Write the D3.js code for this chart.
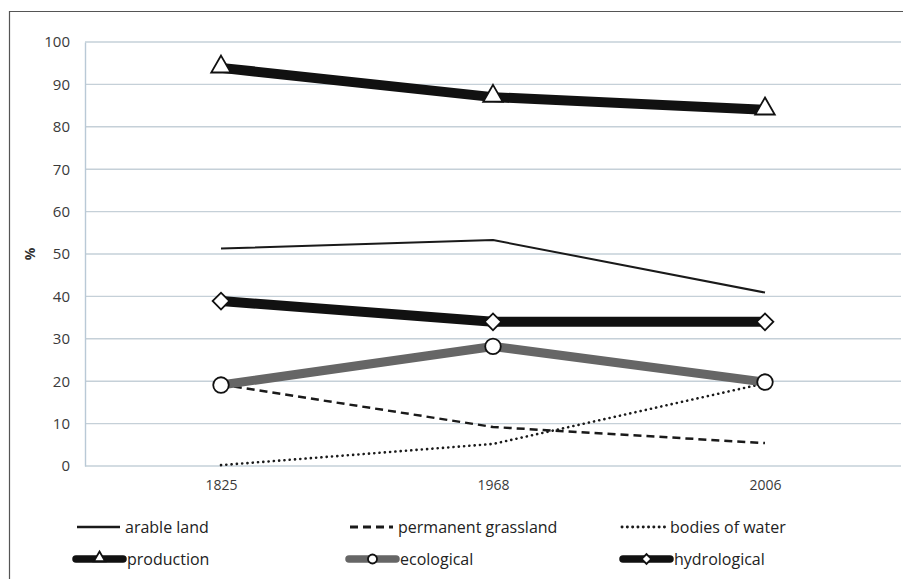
<!DOCTYPE html>
<html>
<head>
<meta charset="utf-8">
<script src="https://cdn.jsdelivr.net/npm/d3@7"></script>
<style>
  html, body { margin: 0; padding: 0; background: #fff; }
  svg { display: block; font-family: "Open Sans", "Liberation Sans", sans-serif; }
</style>
</head>
<body>
<svg id="chart" width="903" height="579"></svg>
<script>
// Share of land functions per year (%)
const years = ["1825", "1968", "2006"];
const arableLand = [51.3, 53.3, 40.9];
const permanentGrassland = [19.2, 9.2, 5.4];
const bodiesOfWater = [0.2, 5.2, 19.5];
const production = [93.9, 87.0, 84.0];
const ecological = [19.1, 28.2, 19.8];
const hydrological = [38.9, 34.0, 34.0];
const yTicks = [0, 10, 20, 30, 40, 50, 60, 70, 80, 90, 100];

const series = [
  { name: "arable land", values: arableLand, color: "#1a1a1a", width: 2, dash: null, marker: null },
  { name: "permanent grassland", values: permanentGrassland, color: "#1a1a1a", width: 2.5, dash: "8,5", marker: null },
  { name: "bodies of water", values: bodiesOfWater, color: "#1a1a1a", width: 2.6, dash: "0.1,5.2", cap: "round", marker: null },
  { name: "production", values: production, color: "#111", width: 10, dash: null, marker: "triangle" },
  { name: "ecological", values: ecological, color: "#666", width: 9, dash: null, marker: "circle" },
  { name: "hydrological", values: hydrological, color: "#111", width: 10, dash: null, marker: "diamond" }
];

const svg = d3.select("#chart");
const plot = { left: 85, right: 901, top: 42, bottom: 466 };

// outer frame
svg.append("path")
  .attr("d", "M9.5,579 V11.5 H903")
  .attr("fill", "none").attr("stroke", "#555").attr("stroke-width", 1.2);

const x = d3.scalePoint().domain(years).range([plot.left, plot.right]).padding(0.5);
const y = d3.scaleLinear().domain([0, 100]).range([plot.bottom, plot.top]);

// horizontal gridlines
svg.append("g").selectAll("line").data(yTicks).join("line")
  .attr("x1", plot.left).attr("x2", plot.right)
  .attr("y1", d => y(d)).attr("y2", d => y(d))
  .attr("stroke", "#c5d0d8").attr("stroke-width", 1.4);

// y axis
const yAxis = svg.append("g")
  .attr("transform", `translate(${plot.left},0)`)
  .call(d3.axisLeft(y).tickValues(yTicks).tickSize(0).tickPadding(15));
yAxis.select(".domain").attr("stroke", "#b9c9d6").attr("stroke-width", 1.4);
yAxis.selectAll("text").attr("font-size", 15).attr("fill", "#3a3a3a")
  .attr("font-family", "Open Sans, sans-serif");

// x axis labels
const xAxis = svg.append("g")
  .attr("transform", `translate(0,${plot.bottom})`)
  .call(d3.axisBottom(x).tickSize(0).tickPadding(14));
xAxis.select(".domain").remove();
xAxis.selectAll("text").attr("font-size", 14).attr("fill", "#3a3a3a")
  .attr("font-family", "Open Sans, sans-serif");

// y axis title
svg.append("text")
  .attr("transform", `translate(35,${y(50)}) rotate(-90)`)
  .attr("text-anchor", "middle")
  .attr("font-size", 14).attr("font-weight", "bold").attr("fill", "#333")
  .text("%");

const line = d3.line().x((d, i) => x(years[i])).y(d => y(d));

// draw lines
const lines = svg.append("g");
series.forEach(s => {
  lines.append("path")
    .datum(s.values)
    .attr("d", line)
    .attr("fill", "none")
    .attr("stroke", s.color)
    .attr("stroke-width", s.width)
    .attr("stroke-dasharray", s.dash)
    .attr("stroke-linecap", s.cap || "butt")
    .attr("stroke-linejoin", "round");
});

// marker shapes
const markerPath = {
  triangle: d3.symbol().type(d3.symbolTriangle).size(165)(),
  circle: d3.symbol().type(d3.symbolCircle).size(190)(),
  diamond: d3.symbol().type(d3.symbolSquare).size(140)()
};
function drawMarker(g, kind, cx, cy, scale) {
  const p = g.append("path")
    .attr("d", markerPath[kind])
    .attr("fill", "#fff").attr("stroke", "#111").attr("stroke-width", 1.8 / scale);
  if (kind === "diamond") p.attr("transform", `translate(${cx},${cy}) scale(${scale}) rotate(45)`);
  else if (kind === "triangle") p.attr("transform", `translate(${cx},${cy - 1}) scale(${scale})`);
  else p.attr("transform", `translate(${cx},${cy}) scale(${scale})`);
}

const marks = svg.append("g");
series.filter(s => s.marker).forEach(s => {
  s.values.forEach((v, i) => drawMarker(marks, s.marker, x(years[i]), y(v), 1));
});

// legend
const legendItems = [
  { s: series[0], x: 77, y: 527 },
  { s: series[1], x: 350, y: 527 },
  { s: series[2], x: 622, y: 527 },
  { s: series[3], x: 76, y: 559 },
  { s: series[4], x: 349, y: 559 },
  { s: series[5], x: 623, y: 559 }
];
const legend = svg.append("g");
legendItems.forEach(({ s, x: lx, y: ly }) => {
  const w = s.marker ? 47 : 43;
  legend.append("line")
    .attr("x1", lx).attr("x2", lx + w).attr("y1", ly).attr("y2", ly)
    .attr("stroke", s.color)
    .attr("stroke-width", s.marker ? 7.5 : s.width + 0.3)
    .attr("stroke-dasharray", s.dash)
    .attr("stroke-linecap", s.marker ? "round" : (s.cap || "butt"));
  if (s.marker) drawMarker(legend, s.marker, lx + w / 2, ly, 0.58);
  legend.append("text")
    .attr("x", lx + w + (s.marker ? 4 : 5)).attr("y", ly)
    .attr("dy", "0.35em")
    .attr("font-size", 16).attr("fill", "#222")
    .text(s.name);
});
</script>
</body>
</html>
